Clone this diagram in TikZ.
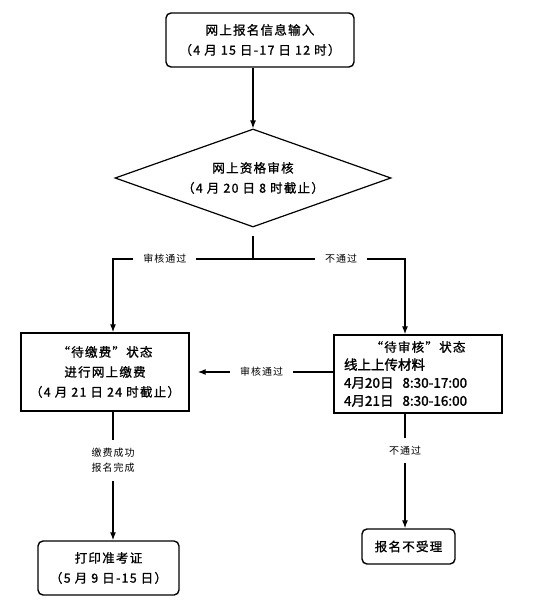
\documentclass[tikz,border=0pt]{standalone}
\usepackage{fontspec}
\setmainfont{Noto Sans CJK SC}
\newfontfamily\boxfont{Noto Sans CJK SC}[FakeBold=1,LetterSpace=10]
\newfontfamily\timefont{Noto Sans CJK SC}[FakeBold=1.5]
\newfontfamily\edgefont{Noto Sans CJK SC}[LetterSpace=10]
\usetikzlibrary{shapes.geometric,arrows.meta}
\begin{document}
\begin{tikzpicture}[x=1pt,y=-1pt,line width=1.2pt,
		>={Latex[length=8pt,width=6pt]},
		every node/.style={font=\boxfont\fontsize{12.5}{20}\selectfont,align=center}
		]
		\tikzstyle{roundbox}=[draw,rounded corners=5pt,line width=1.4pt,inner sep=0pt]
		\tikzstyle{plainbox}=[draw,line width=1.4pt,inner sep=0pt]
		\tikzstyle{edgetext}=[fill=white,font=\edgefont\fontsize{10}{15}\selectfont,inner xsep=10pt,inner ysep=8pt]
		
		\useasboundingbox (0,0) rectangle (553,610);
		
		\node[roundbox,minimum width=188pt,minimum height=54pt] (input) at (260,40)
			{网上报名信息输入\\（4 月 15 日-17 日 12 时）};
		\node[draw,diamond,aspect=2.8,inner sep=0pt,minimum width=276pt,minimum height=98pt] (check) at (253,178)
			{网上资格审核\\（4 月 20 日 8 时截止）};
		\node[plainbox,minimum width=168pt,minimum height=78pt] (pay) at (105,372)
			{“待缴费”状态\\进行网上缴费\\（4 月 21 日 24 时截止）};
		\node[plainbox,minimum width=168pt,minimum height=78pt,inner xsep=10pt,text width=148pt,align=left,
			font=\timefont\fontsize{13.5}{18}\selectfont] (wait) at (418,374)
			{\makebox[148pt]{\boxfont\fontsize{12.5}{18}\selectfont“待审核”状态}\\线上上传材料\\4月20日\ \ 8:30-17:00\\4月21日\ \ 8:30-16:00};
		\node[roundbox,minimum width=141pt,minimum height=54pt] (card) at (108.5,568)
			{打印准考证\\（5 月 9 日-15 日）};
		\node[roundbox,minimum width=93pt,minimum height=35pt] (reject) at (408.5,546.5)
			{报名不受理};
		
		\coordinate (split) at (253,259);
		\coordinate (lturn) at (113,259);
		\coordinate (rturn) at (405,259);
		
		\draw[->] (check.north |- input.south) -- (check.north);
		\draw[shorten <=8pt] (check.south) -- (split);
		\draw[->] (split) -- node[edgetext,pos=0.63]{审核通过} (lturn) -- (lturn |- pay.north);
		\draw[->] (split) -- node[edgetext,pos=0.58]{不通过} (rturn) -- (rturn |- wait.north);
		\draw[->,shorten >=8pt] (wait.west |- pay.east) -- node[edgetext]{审核通过} (pay.east);
		\draw[->] (lturn |- pay.south) -- node[edgetext,pos=0.38]{缴费成功\\报名完成} (lturn |- card.north);
		\draw[->] (rturn |- wait.south) -- node[edgetext,pos=0.32]{不通过} (rturn |- reject.north);
\end{tikzpicture}
\end{document}
